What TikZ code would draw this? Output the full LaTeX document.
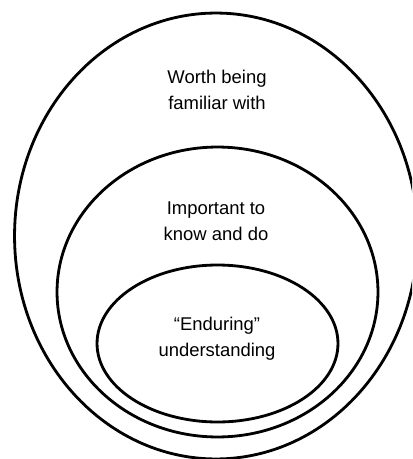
\documentclass[tikz,border=0pt]{standalone}
\usepackage{fontspec}
\setmainfont{Liberation Sans}
\usetikzlibrary{shapes.geometric}
\tikzstyle{ring}=[ellipse,draw,line width=1.6pt,inner sep=0pt]
\tikzstyle{caption}=[align=center,font=\fontsize{10.5}{14.7}\selectfont]

\begin{document}
\begin{tikzpicture}[x=0.02cm, y=-0.02cm]
    \useasboundingbox (0,0) rectangle (412,459);
    \clip (0,0) rectangle (412,459);

    % nested levels, biggest first
    \foreach \pos/\across/\tall/\name in {{(216,236)/8.06/8.92/outer}, {(217.5,292)/6.42/5.80/middle}, {(217.5,343.5)/4.82/3.14/inner}}
        \node[ring,minimum width=\across cm,minimum height=\tall cm] (\name) at \pos {};

    % one caption per level
    \node[caption] (outertext) at (217,90) {Worth being\\familiar with};
    \node[caption] (middletext) at (216,221) {Important to\\know and do};
    \node[caption] (innertext) at (217,339) {“Enduring”\\understanding};
\end{tikzpicture}
\end{document}
